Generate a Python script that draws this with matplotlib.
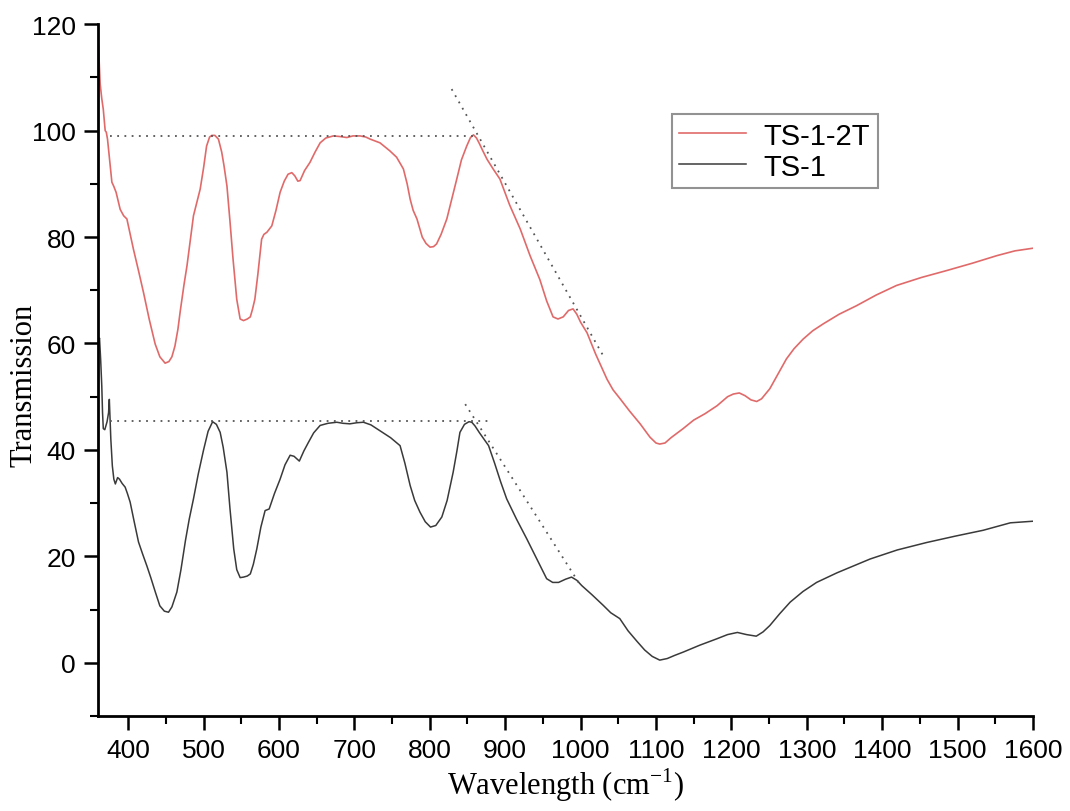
import matplotlib
matplotlib.use('Agg')
import matplotlib.pyplot as plt
import matplotlib.ticker as ticker

# TS-1-2T (red) spectrum
red_x = [360.6, 362.9, 365, 367, 369.5, 371, 372.6, 375, 378.4, 381, 384, 389.4, 394,
         398.3, 402, 407, 414, 420.3, 428, 435.8, 442, 449, 454, 458, 462, 466, 469,
         474, 478, 483, 486.6, 491, 495.5, 500, 504, 508, 511, 515, 519.7, 524, 527,
         531, 535, 539, 544, 548.5, 553, 558, 562, 565, 568, 572, 577, 580, 584,
         590.5, 596, 601.5, 607, 612, 617, 621, 625, 628, 634, 641, 648, 654.6, 662,
         672, 680, 690, 698, 707.6, 715, 721, 734, 747, 756, 765, 770, 774, 778, 783,
         790, 795, 800.4, 805, 809, 815, 822.6, 829, 835.8, 842, 849, 854, 858, 862,
         866, 870, 876, 884, 893, 906, 920, 933, 946, 955, 963.5, 970, 977, 984, 990,
         995, 1000, 1008.6, 1020, 1035, 1043, 1052.5, 1065, 1079, 1092, 1100, 1105,
         1112, 1120, 1136, 1150, 1165, 1181, 1195, 1202.6, 1210.5, 1218, 1226, 1233.6,
         1240, 1251, 1262, 1273, 1283, 1295, 1308, 1322, 1343, 1366, 1392, 1419, 1452,
         1485.5, 1520, 1552, 1576, 1600]
red_y = [115.9, 108.7, 106, 104, 100, 99.7, 98.4, 95, 90.3, 89.5, 88.4, 85.2, 84,
         83.4, 81, 77.7, 73.5, 69.6, 64.5, 59.9, 57.5, 56.3, 56.6, 57.5, 59.5, 62.7, 66,
         71, 74.6, 80, 84, 86.5, 89, 93, 97.1, 98.8, 99.1, 99.1, 98.4, 96, 93.5,
         89.6, 83, 76, 68.3, 64.6, 64.3, 64.6, 65, 66.5, 68.3, 73, 79.6, 80.5, 80.9,
         82.1, 85, 88.4, 90.5, 91.8, 92.1, 91.5, 90.5, 90.6, 92.5, 94, 96, 97.7, 98.6,
         99, 98.9, 98.7, 99, 99, 98.8, 98.4, 97.7, 96.2, 95, 92.8, 90, 87.1, 85, 83.4,
         80, 78.8, 78.1, 78.2, 78.7, 80.5, 83.4, 87, 90.9, 94.5, 97.1, 98.7, 99.2, 98.6,
         97.5, 96.3, 94.6, 92.8, 90.9, 86, 81.5, 76.5, 72, 68, 65, 64.6, 65, 66.2, 66.5,
         65.5, 64, 62, 58, 53.3, 51.3, 49.6, 47.3, 44.9, 42.4, 41.3, 41.1,
         41.3, 42.3, 44, 45.6, 46.8, 48.3, 50, 50.5, 50.7, 50.2, 49.4, 49.1,
         49.6, 51.5, 54.3, 57.1, 59, 60.8, 62.4, 63.7, 65.5, 67.1, 69.1, 70.9, 72.4,
         73.7, 75.1, 76.5, 77.4, 77.9]

# TS-1 (black) spectrum
blk_x = [361, 362, 363.5, 365, 366, 367, 369, 372, 374, 375, 376, 377, 379, 381, 383,
         386, 388.5, 392, 396, 399, 402.6, 408, 413.7, 419, 424.8, 430, 436, 442, 448,
         453.5, 458, 464.6, 470, 476, 481, 486.6, 493, 500, 506, 512, 517, 522, 526,
         531, 535, 540, 544, 548.5, 553, 558, 562, 566, 570.6, 576, 581.6, 587, 594,
         601.5, 608, 614.8, 620, 627, 633, 639, 646, 654.6, 665, 676.7, 685, 694, 703,
         712, 722, 734, 748, 760.6, 767, 774, 780, 787, 794, 801, 808, 816, 823, 831,
         836, 840, 846, 852, 855.7, 860, 866, 872, 878, 886, 894, 902, 915, 928.6, 942,
         955, 963, 970.8, 980, 988, 995, 1001.6, 1015, 1030, 1040, 1052, 1063, 1075,
         1085, 1095, 1105, 1115, 1125, 1136, 1158, 1180.6, 1195, 1208, 1220, 1233,
         1242, 1251, 1264, 1278, 1295, 1313, 1340, 1384, 1420, 1459, 1497, 1534, 1570,
         1600]
blk_y = [60.5, 61, 57, 52, 47, 44, 43.8, 45.3, 47, 49.5, 46, 42, 37, 34.5, 33.6,
         34.8, 34.5, 33.7, 33, 31.8, 30.2, 26.5, 22.7, 20.5, 18.2, 16, 13.3, 10.7, 9.7,
         9.5, 10.5, 13.3, 17.5, 23, 27, 30.8, 35.5, 40, 43.5, 45.3, 44.8, 43.3, 40.5,
         35.8, 29, 21.4, 17.5, 16, 16.1, 16.3, 16.7, 18.5, 21.4, 25.5, 28.6, 28.9, 31.8,
         34.5, 37.2, 39, 38.8, 37.9, 39.8, 41.4, 43.2, 44.6, 45, 45.2, 45, 44.9, 45.1,
         45.2, 44.7, 43.6, 42.3, 40.8, 37.5, 33.3, 30.5, 28.3, 26.5, 25.5, 25.8, 27.4,
         30.5, 35.8, 39.8, 43.3, 44.8, 45.3, 45.2, 44.5, 43.2, 42, 40.8, 37.5, 34, 30.8,
         27, 23.3, 19.5, 15.8, 15.1, 15.1, 15.7, 16.1, 15.5, 14.5, 12.8, 10.8, 9.4, 8.3,
         6, 4, 2.4, 1.2, 0.5, 0.8, 1.4, 2, 3.3, 4.5, 5.3, 5.7, 5.3, 5, 5.8, 7, 9.2,
         11.4, 13.4, 15.1, 16.9, 19.5, 21.2, 22.6, 23.8, 24.9, 26.3, 26.6]

# guide lines drawn on the original plot
red_base_x, red_base_y = [376, 860], [99, 99]
red_slope_x, red_slope_y = [829, 1030], [107.8, 57.7]
blk_base_x, blk_base_y = [376, 883], [45.5, 45.5]
blk_slope_x, blk_slope_y = [847, 1001], [48.6, 14.3]

fig, ax = plt.subplots(figsize=(10.7, 8.12), dpi=100)
fig.subplots_adjust(left=0.0916, right=0.9654, bottom=0.117, top=0.969)

ax.plot(red_x, red_y, color='#e06a6a', lw=1.2, label='TS-1-2T')
ax.plot(blk_x, blk_y, color='#3a3a3a', lw=1.1, label='TS-1')

dot = dict(color='#555555', lw=1.3, ls=(0, (1, 3)))
ax.plot(red_base_x, red_base_y, **dot)
ax.plot(red_slope_x, red_slope_y, **dot)
ax.plot(blk_base_x, blk_base_y, **dot)
ax.plot(blk_slope_x, blk_slope_y, **dot)

ax.set_xlim(360, 1600)
ax.set_ylim(-10, 120)
ax.xaxis.set_major_locator(ticker.MultipleLocator(100))
ax.xaxis.set_minor_locator(ticker.MultipleLocator(50))
ax.yaxis.set_major_locator(ticker.MultipleLocator(20))
ax.yaxis.set_minor_locator(ticker.MultipleLocator(10))

for s in ['top', 'right']:
    ax.spines[s].set_visible(False)
for s in ['left', 'bottom']:
    ax.spines[s].set_linewidth(2)

ax.tick_params(which='major', direction='out', length=10, width=1.8,
               labelsize=19, pad=6)
ax.tick_params(which='minor', direction='out', length=6, width=1.5)
for lab in ax.get_xticklabels() + ax.get_yticklabels():
    lab.set_family(['Liberation Sans', 'DejaVu Sans'])

ax.set_xlabel('Wavelength (cm$^{\\mathregular{-1}}$)', fontsize=22,
              family=['Liberation Serif', 'DejaVu Serif'])
ax.set_ylabel('Transmission', fontsize=22,
              family=['Liberation Serif', 'DejaVu Serif'])
ax.xaxis.set_label_coords(0.5, -0.072)
ax.yaxis.set_label_coords(-0.064, 0.48)

leg = ax.legend(loc='upper left', bbox_to_anchor=(0.628, 0.858),
                bbox_transform=fig.transFigure, fancybox=False,
                prop={'family': ['Liberation Sans', 'DejaVu Sans'], 'size': 21},
                handlelength=2.3, borderpad=0.25, labelspacing=0.1,
                handletextpad=0.6, borderaxespad=0)
leg.get_frame().set_edgecolor('#777777')
leg.get_frame().set_linewidth(1.5)

fig.savefig('out.png', dpi=100)
